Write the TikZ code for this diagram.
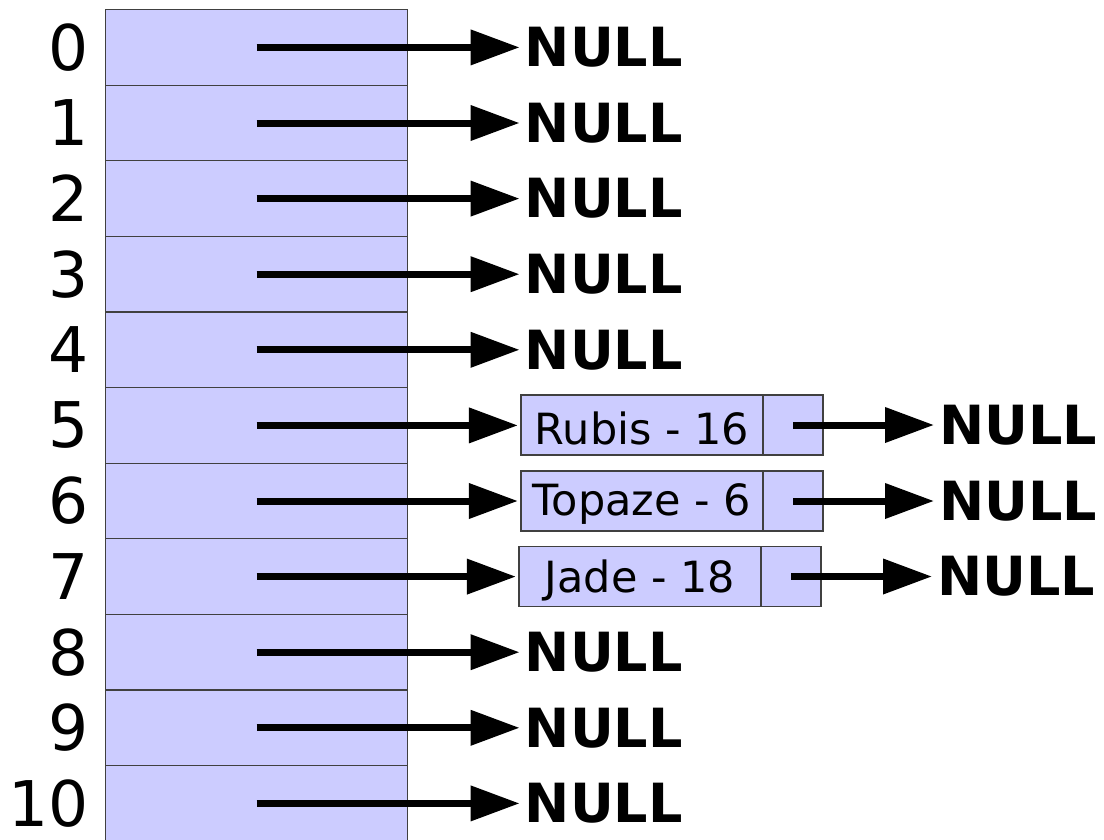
\documentclass[tikz,border=0pt]{standalone}
\usepackage{fontspec}
\setmainfont{DejaVu Sans}
\usetikzlibrary{arrows.meta}
\definecolor{cellblue}{RGB}{204,204,255}
\newcommand{\lowtext}[1]{\raisebox{-3.5pt}[\height][\depth]{#1}}
\begin{document}
\begin{tikzpicture}[x=1pt,y=-1pt,
  cell/.style={draw=black!75,line width=1.2pt,fill=cellblue,minimum width=302pt,minimum height=75.6pt,inner sep=0pt,anchor=north west},
  idx/.style={font=\fontsize{63}{63}\selectfont,anchor=east,inner sep=0pt},
  nulltxt/.style={font=\bfseries\fontsize{54}{54}\selectfont,anchor=west,inner xsep=5pt,inner ysep=0pt},
  ptr/.style={line width=7pt,-{Triangle[length=49pt,width=34pt]}},
  datbox/.style={draw=black!75,line width=1.2pt,fill=cellblue,minimum width=242pt,minimum height=60pt,inner sep=0pt,font=\fontsize{43}{43}\selectfont},
  ptrbox/.style={draw=black!75,line width=1.2pt,fill=cellblue,minimum width=60pt,minimum height=60pt,inner sep=0pt}]
\useasboundingbox (0,0) rectangle (1104,839);
\clip (0,0) rectangle (1104,839);
\foreach \i in {0,...,10}{
  \node[cell] (r\i) at (105,{9+\i*75.6}) {};
  \node[idx] (l\i) at ([xshift=-16pt]r\i.west) {\i};
}
\foreach \i in {0,1,2,3,4,8,9,10}{
  \node[nulltxt] (n\i) at ([xshift=263pt]r\i.center) {NULL};
  \draw[ptr] (r\i.center) -- (n\i.west);
}
% list nodes
\node[datbox] (d5) at (642,425) {\lowtext{Rubis - 16}};
\node[ptrbox] (p5) at (793,425) {};
\node[datbox] (d6) at (642,501) {\lowtext{Topaze - 6}};
\node[ptrbox] (p6) at (793,501) {};
\node[datbox] (d7) at (640,576.5) {\lowtext{Jade - 18}};
\node[ptrbox] (p7) at (791,576.5) {};
\foreach \i in {5,6,7}{
  \draw[ptr,shorten >=2.5pt] (r\i.center) -- (d\i.west |- r\i.center);
  \node[nulltxt] (n\i) at ([xshift=141pt]p\i.center) {NULL};
  \draw[ptr] (p\i.center) -- (n\i.west);
}
\end{tikzpicture}
\end{document}
